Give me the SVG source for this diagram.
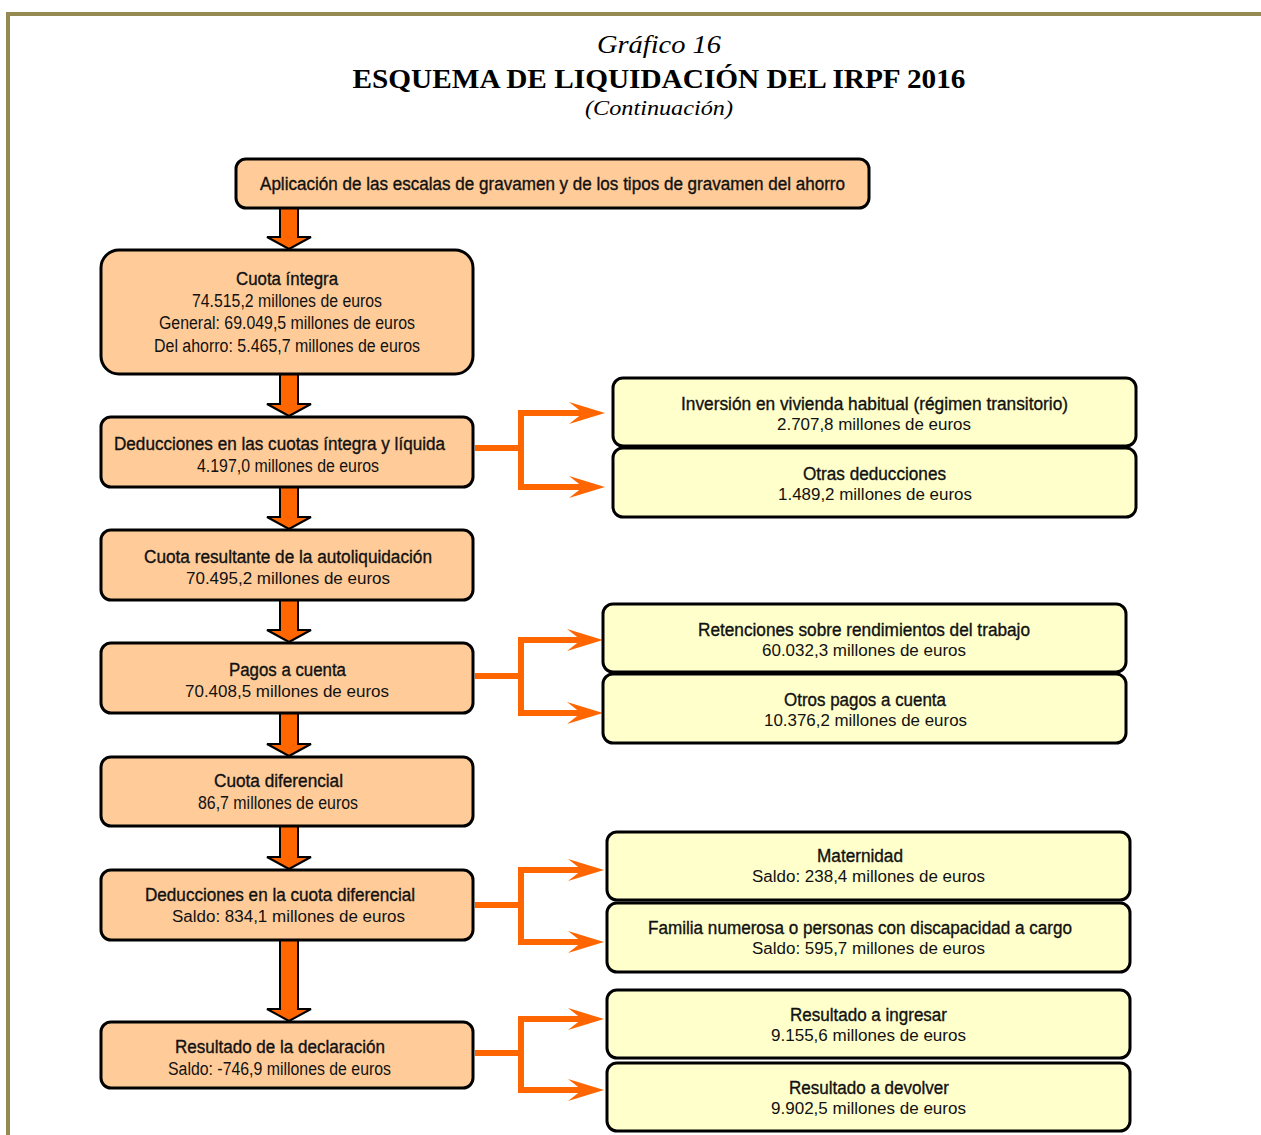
<svg xmlns="http://www.w3.org/2000/svg" width="1261" height="1135" viewBox="0 0 1261 1135">
<style>
.l{fill:#FFCC99;stroke:#000;stroke-width:3}
.r{fill:#FFFFCC;stroke:#000;stroke-width:3}
.t{font-family:"Liberation Sans",Arial,sans-serif;font-size:18px;fill:#111}
.h{stroke:#111;stroke-width:0.35px}
.s{font-family:"Liberation Sans",Arial,sans-serif;font-size:16px;fill:#111}
.down{fill:#FF6600;stroke:#000;stroke-width:2;stroke-linejoin:miter}
.br{fill:none;stroke:#FF6600;stroke-width:6;stroke-linejoin:miter}
.ttl{font-family:"Liberation Serif","Times New Roman",serif;fill:#000}
</style>
<defs>
<marker id="ah" viewBox="-22 -12 38 24" refX="0" refY="0" markerWidth="38" markerHeight="24" markerUnits="userSpaceOnUse" orient="auto">
<path d="M15,0 L-21,-11 L-7,0 L-21,11 Z" fill="#FF6600"/>
</marker>
</defs>
<rect width="1261" height="1135" fill="#fff"/>
<path d="M8,1135 V14 H1261" fill="none" stroke="#958B52" stroke-width="4"/>
<g id="title">
<text class="ttl" x="659" y="53" text-anchor="middle" font-style="italic" font-size="25" textLength="124" lengthAdjust="spacingAndGlyphs">Gráfico 16</text>
<text class="ttl" x="659" y="88" text-anchor="middle" font-weight="bold" font-size="27" textLength="613" lengthAdjust="spacingAndGlyphs">ESQUEMA DE LIQUIDACIÓN DEL IRPF 2016</text>
<text class="ttl" x="659" y="115" text-anchor="middle" font-style="italic" font-size="21" textLength="148" lengthAdjust="spacingAndGlyphs">(Continuación)</text>
</g>
<g id="connectors">
<path class="down" d="M280,207 V237 H267 L289,249 L311,237 H298 V207 Z"/>
<path class="down" d="M280,374 V404 H267 L289,416 L311,404 H298 V374 Z"/>
<path class="down" d="M280,487 V517 H267 L289,529 L311,517 H298 V487 Z"/>
<path class="down" d="M280,600 V630 H267 L289,642 L311,630 H298 V600 Z"/>
<path class="down" d="M280,713 V744 H267 L289,756 L311,744 H298 V713 Z"/>
<path class="down" d="M280,826 V857 H267 L289,869 L311,857 H298 V826 Z"/>
<path class="down" d="M280,940 V1009 H267 L289,1021 L311,1009 H298 V940 Z"/>
<path class="br" d="M475,448 H521"/>
<path class="br" d="M590,413 H521 V487 H590" marker-end="url(#ah)"/>
<path class="br" d="M521,413 H590" marker-end="url(#ah)"/>
<path class="br" d="M475,676 H521"/>
<path class="br" d="M588,640 H521 V713 H588" marker-end="url(#ah)"/>
<path class="br" d="M521,640 H588" marker-end="url(#ah)"/>
<path class="br" d="M475,905 H521"/>
<path class="br" d="M589,870 H521 V942 H589" marker-end="url(#ah)"/>
<path class="br" d="M521,870 H589" marker-end="url(#ah)"/>
<path class="br" d="M475,1053 H521"/>
<path class="br" d="M589,1019 H521 V1090 H589" marker-end="url(#ah)"/>
<path class="br" d="M521,1019 H589" marker-end="url(#ah)"/>
</g>
<g id="n0"><rect class="l" x="236" y="159" width="633" height="49" rx="10"/>
<text class="t h" x="260" y="190" textLength="585" lengthAdjust="spacingAndGlyphs">Aplicación de las escalas de gravamen y de los tipos de gravamen del ahorro</text></g>
<g id="n1"><rect class="l" x="101" y="250" width="372" height="124" rx="18"/>
<text class="t h" x="236" y="285" textLength="102" lengthAdjust="spacingAndGlyphs">Cuota íntegra</text>
<text class="t" x="192" y="307" textLength="190" lengthAdjust="spacingAndGlyphs">74.515,2 millones de euros</text>
<text class="t" x="159" y="329" textLength="256" lengthAdjust="spacingAndGlyphs">General: 69.049,5 millones de euros</text>
<text class="t" x="154" y="352" textLength="266" lengthAdjust="spacingAndGlyphs">Del ahorro: 5.465,7 millones de euros</text></g>
<g id="n2"><rect class="l" x="101" y="417" width="372" height="70" rx="10"/>
<text class="t h" x="114" y="450" textLength="331" lengthAdjust="spacingAndGlyphs">Deducciones en las cuotas íntegra y líquida</text>
<text class="t" x="197" y="472" textLength="182" lengthAdjust="spacingAndGlyphs">4.197,0 millones de euros</text></g>
<g id="n3"><rect class="l" x="101" y="530" width="372" height="70" rx="10"/>
<text class="t h" x="144" y="563" textLength="288" lengthAdjust="spacingAndGlyphs">Cuota resultante de la autoliquidación</text>
<text class="s" x="186" y="584" textLength="204" lengthAdjust="spacingAndGlyphs">70.495,2 millones de euros</text></g>
<g id="n4"><rect class="l" x="101" y="643" width="372" height="70" rx="10"/>
<text class="t h" x="229" y="676" textLength="117" lengthAdjust="spacingAndGlyphs">Pagos a cuenta</text>
<text class="s" x="185" y="697" textLength="204" lengthAdjust="spacingAndGlyphs">70.408,5 millones de euros</text></g>
<g id="n5"><rect class="l" x="101" y="757" width="372" height="69" rx="10"/>
<text class="t h" x="214" y="787" textLength="129" lengthAdjust="spacingAndGlyphs">Cuota diferencial</text>
<text class="t" x="198" y="809" textLength="160" lengthAdjust="spacingAndGlyphs">86,7 millones de euros</text></g>
<g id="n6"><rect class="l" x="101" y="870" width="372" height="70" rx="10"/>
<text class="t h" x="145" y="901" textLength="270" lengthAdjust="spacingAndGlyphs">Deducciones en la cuota diferencial</text>
<text class="s" x="172" y="922" textLength="233" lengthAdjust="spacingAndGlyphs">Saldo: 834,1 millones de euros</text></g>
<g id="n7"><rect class="l" x="101" y="1022" width="372" height="66" rx="10"/>
<text class="t h" x="175" y="1053" textLength="210" lengthAdjust="spacingAndGlyphs">Resultado de la declaración</text>
<text class="t" x="168" y="1075" textLength="223" lengthAdjust="spacingAndGlyphs">Saldo: -746,9 millones de euros</text></g>
<g id="a1"><rect class="r" x="613" y="378" width="523" height="68" rx="10"/>
<text class="t h" x="681" y="410" textLength="387" lengthAdjust="spacingAndGlyphs">Inversión en vivienda habitual (régimen transitorio)</text>
<text class="s" x="777" y="430" textLength="194" lengthAdjust="spacingAndGlyphs">2.707,8 millones de euros</text></g>
<g id="a2"><rect class="r" x="613" y="448" width="523" height="69" rx="10"/>
<text class="t h" x="803" y="480" textLength="143" lengthAdjust="spacingAndGlyphs">Otras deducciones</text>
<text class="s" x="778" y="500" textLength="194" lengthAdjust="spacingAndGlyphs">1.489,2 millones de euros</text></g>
<g id="b1"><rect class="r" x="603" y="604" width="523" height="68" rx="10"/>
<text class="t h" x="698" y="636" textLength="332" lengthAdjust="spacingAndGlyphs">Retenciones sobre rendimientos del trabajo</text>
<text class="s" x="762" y="656" textLength="204" lengthAdjust="spacingAndGlyphs">60.032,3 millones de euros</text></g>
<g id="b2"><rect class="r" x="603" y="674" width="523" height="69" rx="10"/>
<text class="t h" x="784" y="706" textLength="162" lengthAdjust="spacingAndGlyphs">Otros pagos a cuenta</text>
<text class="s" x="764" y="726" textLength="203" lengthAdjust="spacingAndGlyphs">10.376,2 millones de euros</text></g>
<g id="c1"><rect class="r" x="607" y="832" width="523" height="68" rx="10"/>
<text class="t h" x="817" y="862" textLength="86" lengthAdjust="spacingAndGlyphs">Maternidad</text>
<text class="s" x="752" y="882" textLength="233" lengthAdjust="spacingAndGlyphs">Saldo: 238,4 millones de euros</text></g>
<g id="c2"><rect class="r" x="607" y="903" width="523" height="69" rx="10"/>
<text class="t h" x="648" y="934" textLength="424" lengthAdjust="spacingAndGlyphs">Familia numerosa o personas con discapacidad a cargo</text>
<text class="s" x="752" y="954" textLength="233" lengthAdjust="spacingAndGlyphs">Saldo: 595,7 millones de euros</text></g>
<g id="d1"><rect class="r" x="607" y="990" width="523" height="68" rx="10"/>
<text class="t h" x="790" y="1021" textLength="157" lengthAdjust="spacingAndGlyphs">Resultado a ingresar</text>
<text class="s" x="771" y="1041" textLength="195" lengthAdjust="spacingAndGlyphs">9.155,6 millones de euros</text></g>
<g id="d2"><rect class="r" x="607" y="1063" width="523" height="68" rx="10"/>
<text class="t h" x="789" y="1094" textLength="160" lengthAdjust="spacingAndGlyphs">Resultado a devolver</text>
<text class="s" x="771" y="1114" textLength="195" lengthAdjust="spacingAndGlyphs">9.902,5 millones de euros</text></g>
</svg>
